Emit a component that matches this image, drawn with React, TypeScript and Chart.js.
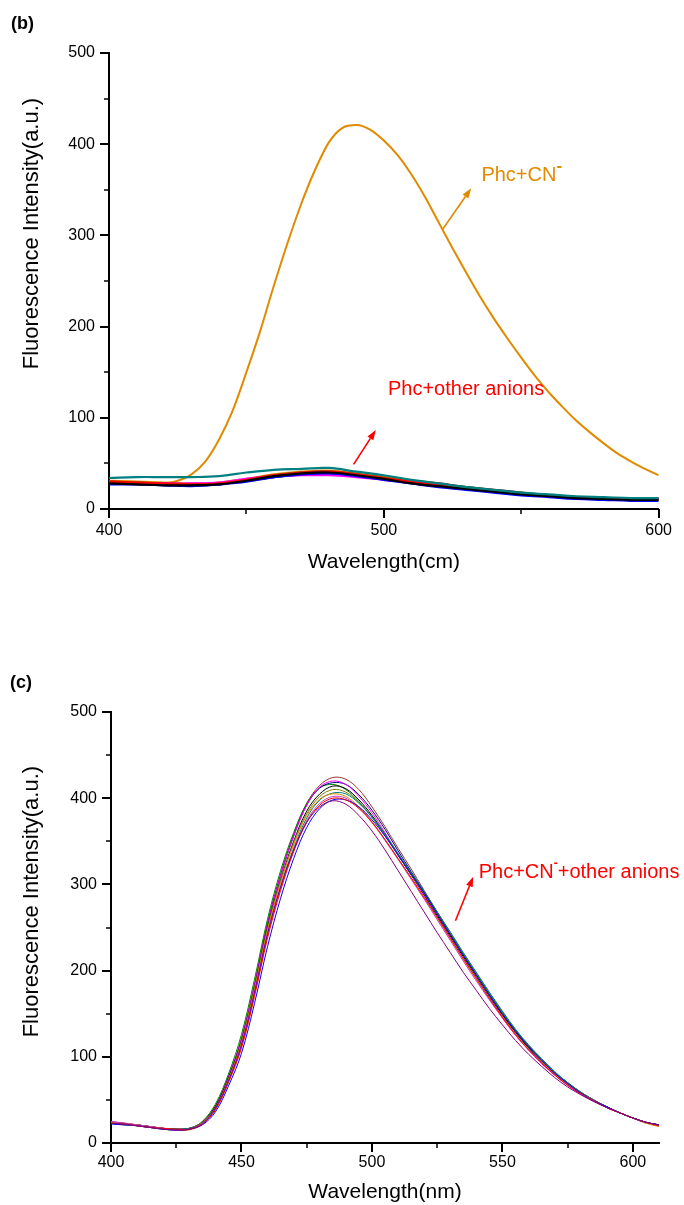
import React, { useEffect, useRef } from "react";
import { Chart, registerables } from "chart.js";

Chart.register(...registerables);

const FONT = "'Liberation Sans', Arial, Helvetica, sans-serif";

// ---------------- Panel (b) data ----------------
const bWavelengthsCoarse = [400, 410, 420, 430, 440, 450, 460, 470, 480, 490, 500, 510, 520, 530, 540, 550, 560, 570, 580, 590, 600];
const bWavelengthsFine = [
  400, 405, 410, 415, 420, 425, 430, 435, 440, 445, 450, 455, 460, 465, 470, 475, 480, 485, 490, 495, 500,
  505, 510, 515, 520, 525, 530, 535, 540, 545, 550, 555, 560, 565, 570, 575, 580, 585, 590, 595, 600,
];
const bCyanide = [
  28, 28, 27, 27, 28, 31, 38, 52, 76, 108, 150, 195, 245, 292, 335, 372, 402, 418, 421, 416, 404,
  388, 367, 342, 314, 286, 259, 233, 209, 187, 166, 146, 128, 112, 97, 84, 72, 61, 52, 44, 37,
];
const bOtherTeal = [34, 35, 35, 35, 36, 40, 43, 44, 45, 41, 37, 32, 28, 24, 21, 18, 16, 14, 13, 12, 12];
const bOtherBlack = [28, 27, 26, 26, 27, 31, 36, 39, 40, 37, 33, 28, 25, 22, 19, 16, 14, 12, 11, 10, 10];
const bOtherRed = [30, 29, 28, 27, 28, 32, 37, 40, 41, 38, 34, 30, 26, 23, 20, 17, 15, 13, 12, 11, 11];
const bOtherBlue = [27, 27, 26, 25, 27, 30, 35, 38, 39, 36, 32, 28, 24, 21, 18, 15, 13, 11, 10, 9, 9];
const bOtherMagenta = [29, 28, 28, 28, 29, 33, 36, 37, 37, 35, 32, 29, 26, 23, 19, 16, 14, 13, 12, 11, 11];
const bOtherOlive = [30, 29, 28, 27, 28, 32, 37, 40, 41, 38, 35, 31, 27, 23, 20, 17, 15, 13, 12, 11, 11];
const bOtherNavy = [28, 28, 27, 26, 28, 31, 36, 39, 40, 37, 33, 29, 25, 22, 19, 16, 14, 12, 11, 10, 10];
const bOtherGreen = [29, 28, 27, 26, 28, 31, 35, 38, 39, 37, 34, 31, 27, 24, 20, 17, 15, 13, 12, 11, 11];
const bOtherWine = [30, 29, 28, 27, 28, 32, 37, 40, 41, 38, 34, 31, 28, 24, 21, 18, 15, 13, 12, 11, 11];
const bOtherPurple = [29, 28, 27, 26, 27, 31, 35, 38, 39, 36, 33, 29, 26, 22, 19, 16, 14, 12, 11, 10, 10];
const bOtherOrange = [31, 30, 29, 28, 29, 33, 38, 41, 42, 39, 35, 31, 27, 23, 20, 17, 15, 13, 12, 12, 12];

const bOtherSeries = [
  { label: "other 1", color: "#008080", values: bOtherTeal },
  { label: "other 2", color: "#000000", values: bOtherBlack },
  { label: "other 3", color: "#FF0000", values: bOtherRed },
  { label: "other 4", color: "#0000FF", values: bOtherBlue },
  { label: "other 5", color: "#FF00FF", values: bOtherMagenta },
  { label: "other 6", color: "#808000", values: bOtherOlive },
  { label: "other 7", color: "#000080", values: bOtherNavy },
  { label: "other 8", color: "#008000", values: bOtherGreen },
  { label: "other 9", color: "#800000", values: bOtherWine },
  { label: "other 10", color: "#800080", values: bOtherPurple },
  { label: "other 11", color: "#E08A00", values: bOtherOrange },
];

// ---------------- Panel (c) data ----------------
const cWavelengths = [
  400, 405, 410, 415, 420, 425, 430, 435, 440, 445, 450, 455, 460, 465, 470, 475, 480, 485, 490, 495, 500,
  505, 510, 515, 520, 525, 530, 535, 540, 545, 550, 555, 560, 565, 570, 575, 580, 585, 590, 595, 600, 605, 610,
];
const cBlack = [24, 22, 21, 19, 17, 16, 17, 24, 42, 75, 118, 180, 250, 305, 350, 385, 405, 414, 411, 398, 380, 358, 334, 311, 288, 264, 240, 216, 193, 170, 148, 128, 110, 94, 80, 68, 58, 49, 42, 35, 29, 24, 21];
const cRed = [23, 22, 20, 18, 17, 16, 16, 22, 38, 70, 110, 170, 238, 293, 338, 372, 392, 400, 398, 388, 372, 352, 330, 308, 285, 262, 238, 214, 191, 168, 146, 126, 108, 93, 79, 67, 57, 49, 41, 35, 29, 24, 20];
const cBlue = [22, 21, 20, 18, 16, 15, 16, 21, 36, 66, 104, 162, 228, 284, 330, 366, 388, 398, 398, 390, 375, 356, 334, 312, 290, 266, 242, 218, 195, 172, 150, 130, 112, 96, 81, 69, 58, 49, 42, 35, 29, 24, 21];
const cMagenta = [25, 23, 21, 19, 17, 16, 17, 24, 42, 76, 120, 183, 253, 310, 356, 392, 413, 420, 416, 402, 383, 360, 335, 311, 287, 262, 237, 213, 190, 167, 145, 125, 108, 92, 79, 67, 57, 49, 42, 35, 29, 24, 20];
const cOlive = [23, 22, 20, 18, 17, 16, 17, 24, 41, 74, 117, 179, 249, 304, 348, 382, 402, 410, 407, 395, 378, 357, 334, 311, 289, 266, 243, 219, 196, 173, 151, 130, 112, 96, 82, 69, 58, 49, 41, 35, 29, 23, 20];
const cNavy = [24, 22, 21, 19, 17, 16, 17, 24, 42, 76, 120, 183, 254, 310, 356, 392, 412, 418, 416, 404, 386, 364, 339, 315, 291, 266, 242, 218, 195, 172, 149, 129, 111, 95, 81, 69, 58, 49, 41, 35, 29, 24, 21];
const cPurple = [23, 22, 20, 18, 16, 15, 16, 22, 40, 72, 114, 175, 243, 297, 340, 372, 390, 397, 393, 380, 362, 340, 316, 292, 268, 244, 221, 198, 177, 156, 137, 119, 103, 89, 76, 65, 56, 48, 41, 35, 29, 24, 21];
const cWine = [24, 23, 21, 19, 17, 16, 17, 24, 43, 77, 121, 184, 255, 312, 358, 394, 415, 424, 422, 410, 390, 367, 342, 318, 293, 268, 243, 219, 196, 173, 151, 131, 113, 97, 82, 70, 59, 50, 42, 35, 29, 24, 21];
const cTeal = [23, 22, 20, 18, 17, 16, 17, 23, 40, 72, 113, 174, 243, 298, 342, 377, 398, 406, 405, 394, 378, 358, 336, 314, 292, 268, 245, 221, 198, 175, 153, 132, 114, 98, 83, 70, 59, 50, 42, 35, 29, 24, 20];
const cOrange = [24, 23, 21, 19, 17, 15, 15, 22, 40, 73, 116, 178, 247, 302, 346, 380, 399, 405, 402, 390, 373, 352, 330, 307, 284, 260, 237, 213, 190, 168, 147, 127, 109, 94, 80, 68, 58, 49, 41, 35, 29, 23, 19];
const cGreen = [23, 21, 20, 18, 16, 15, 16, 25, 45, 80, 126, 190, 260, 316, 360, 394, 412, 416, 410, 396, 378, 357, 335, 313, 291, 268, 244, 220, 197, 174, 152, 131, 113, 97, 82, 70, 59, 50, 42, 35, 29, 24, 20];
const cViolet = [25, 23, 21, 19, 17, 15, 16, 23, 40, 72, 113, 173, 241, 296, 340, 374, 394, 402, 400, 389, 372, 351, 329, 306, 283, 259, 235, 211, 188, 166, 145, 125, 108, 93, 79, 67, 57, 49, 41, 35, 29, 24, 21];

const cSeries = [
  { label: "c1", color: "#800080", values: cPurple },
  { label: "c2", color: "#FF0000", values: cRed },
  { label: "c3", color: "#0000FF", values: cBlue },
  { label: "c4", color: "#C040C0", values: cViolet },
  { label: "c5", color: "#E08A00", values: cOrange },
  { label: "c6", color: "#008080", values: cTeal },
  { label: "c7", color: "#808000", values: cOlive },
  { label: "c8", color: "#000000", values: cBlack },
  { label: "c9", color: "#FF00FF", values: cMagenta },
  { label: "c10", color: "#000080", values: cNavy },
  { label: "c11", color: "#008000", values: cGreen },
  { label: "c12", color: "#993333", values: cWine },
];

const Y_TITLE = "Fluorescence Intensity(a.u.)";

const pts = (xs: number[], ys: number[]) => xs.map((x, i) => ({ x, y: ys[i] }));

// ---------------- plugins ----------------
const axisTicksPlugin = {
  id: "axisTicks",
  afterDraw(chart: any, _args: any, opts: any) {
    const { ctx, chartArea } = chart;
    const xs = chart.scales.x;
    const ys = chart.scales.y;
    ctx.save();
    ctx.strokeStyle = "#000";
    const eps = 1e-6;
    for (let v = xs.min; v <= xs.max + eps; v += opts.xMinor) {
      const major = Math.abs((v - xs.min) % opts.xMajor) < eps;
      const px = Math.round(xs.getPixelForValue(v));
      ctx.lineWidth = major ? 2 : 1.5;
      ctx.beginPath();
      ctx.moveTo(px, chartArea.bottom);
      ctx.lineTo(px, chartArea.bottom + (major ? 9 : 5));
      ctx.stroke();
    }
    for (let v = ys.min; v <= ys.max + eps; v += opts.yMinor) {
      const major = Math.abs(v % opts.yMajor) < eps;
      const py = Math.round(ys.getPixelForValue(v));
      ctx.lineWidth = major ? 2 : 1.5;
      ctx.beginPath();
      ctx.moveTo(chartArea.left, py);
      ctx.lineTo(chartArea.left - (major ? 9 : 5), py);
      ctx.stroke();
    }
    ctx.restore();
  },
};

const notesPlugin = {
  id: "notes",
  afterDraw(chart: any, _args: any, opts: any) {
    const { ctx } = chart;
    const xs = chart.scales.x;
    const ys = chart.scales.y;
    ctx.save();
    for (const n of opts.items || []) {
      if (n.kind === "arrow") {
        const x0 = xs.getPixelForValue(n.x0);
        const y0 = ys.getPixelForValue(n.y0);
        const x1 = xs.getPixelForValue(n.x1);
        const y1 = ys.getPixelForValue(n.y1);
        const ang = Math.atan2(y1 - y0, x1 - x0);
        const head = 10;
        const half = 3.5;
        const bx = x1 - head * Math.cos(ang);
        const by = y1 - head * Math.sin(ang);
        ctx.strokeStyle = n.color;
        ctx.fillStyle = n.color;
        ctx.lineWidth = 1.6;
        ctx.beginPath();
        ctx.moveTo(x0, y0);
        ctx.lineTo(bx, by);
        ctx.stroke();
        ctx.beginPath();
        ctx.moveTo(x1, y1);
        ctx.lineTo(bx + half * Math.sin(ang), by - half * Math.cos(ang));
        ctx.lineTo(bx - half * Math.sin(ang), by + half * Math.cos(ang));
        ctx.closePath();
        ctx.fill();
      } else if (n.kind === "text") {
        let cx = xs.getPixelForValue(n.x);
        const base = ys.getPixelForValue(n.y);
        ctx.fillStyle = n.color;
        ctx.textBaseline = "alphabetic";
        ctx.textAlign = "left";
        for (const p of n.parts) {
          if (p.sup) {
            ctx.font = `bold ${n.supSize}px ${FONT}`;
            ctx.fillText(p.text, cx, base - n.supRaise);
          } else {
            ctx.font = `${n.size}px ${FONT}`;
            ctx.fillText(p.text, cx, base);
          }
          cx += ctx.measureText(p.text).width;
        }
      }
    }
    if (opts.yTitle) {
      const t = opts.yTitle;
      ctx.save();
      ctx.translate(t.x, ys.getPixelForValue(t.center));
      ctx.rotate(-Math.PI / 2);
      ctx.fillStyle = "#000";
      ctx.font = `${t.size}px ${FONT}`;
      ctx.textAlign = "center";
      ctx.textBaseline = "middle";
      ctx.fillText(t.text, 0, 0);
      ctx.restore();
    }
    if (opts.panel) {
      ctx.fillStyle = "#000";
      ctx.font = `bold 18px ${FONT}`;
      ctx.textBaseline = "alphabetic";
      ctx.textAlign = "left";
      ctx.fillText(opts.panel.text, opts.panel.x, opts.panel.y);
    }
    ctx.restore();
  },
};

function buildConfig(p: {
  datasets: any[];
  xMin: number;
  xMax: number;
  xStep: number;
  xMinor: number;
  xTitle: string;
  yWidth: number;
  xHeight: number;
  padding: any;
  xLabelPad: number;
  xTitlePadBottom: number;
  notes: any[];
  panel: any;
  yTitleCenter: number;
}) {
  return {
    type: "line",
    data: { datasets: p.datasets },
    plugins: [axisTicksPlugin, notesPlugin],
    options: {
      responsive: false,
      animation: false,
      devicePixelRatio: 1,
      layout: { padding: p.padding },
      elements: { point: { radius: 0 } },
      plugins: {
        legend: { display: false },
        tooltip: { enabled: false },
        axisTicks: { xMajor: p.xStep, xMinor: p.xMinor, yMajor: 100, yMinor: 50 },
        notes: {
          items: p.notes,
          panel: p.panel,
          yTitle: { text: Y_TITLE, x: 32, center: p.yTitleCenter, size: 22 },
        },
      },
      scales: {
        x: {
          type: "linear",
          min: p.xMin,
          max: p.xMax,
          afterFit: (s: any) => {
            s.height = p.xHeight;
          },
          grid: { display: false, drawTicks: false, drawOnChartArea: false },
          border: { display: true, color: "#000", width: 2 },
          ticks: {
            stepSize: p.xStep,
            includeBounds: false,
            autoSkip: false,
            maxRotation: 0,
            padding: p.xLabelPad,
            color: "#000",
            font: { family: FONT, size: 16 },
          },
          title: {
            display: true,
            text: p.xTitle,
            color: "#000",
            font: { family: FONT, size: 21 },
            padding: { top: 0, bottom: p.xTitlePadBottom },
          },
        },
        y: {
          type: "linear",
          min: 0,
          max: 500,
          afterFit: (s: any) => {
            s.width = p.yWidth;
          },
          grid: { display: false, drawTicks: false, drawOnChartArea: false },
          border: { display: true, color: "#000", width: 2 },
          ticks: {
            stepSize: 100,
            autoSkip: false,
            padding: 14,
            color: "#000",
            font: { family: FONT, size: 16 },
          },
          title: { display: false },
        },
      },
    },
  } as any;
}

export default function App() {
  const refB = useRef<HTMLCanvasElement>(null);
  const refC = useRef<HTMLCanvasElement>(null);

  useEffect(() => {
    const bDatasets = [
      ...bOtherSeries.map((s) => ({
        label: s.label,
        data: pts(bWavelengthsCoarse, s.values),
        borderColor: s.color,
        borderWidth: 2.2,
        tension: 0.4,
        fill: false,
      })),
      {
        label: "Phc+CN-",
        data: pts(bWavelengthsFine, bCyanide),
        borderColor: "#E08A00",
        borderWidth: 2,
        cubicInterpolationMode: "monotone",
        fill: false,
      },
    ];
    const cDatasets = cSeries.map((s) => ({
      label: s.label,
      data: pts(cWavelengths, s.values),
      borderColor: s.color,
      borderWidth: 1,
      tension: 0.35,
      fill: false,
    }));

    const chartB = new Chart(
      refB.current as HTMLCanvasElement,
      buildConfig({
        datasets: bDatasets,
        xMin: 400,
        xMax: 600,
        xStep: 100,
        xMinor: 50,
        xTitle: "Wavelength(cm)",
        yWidth: 109,
        xHeight: 91,
        padding: { left: 0, right: 17, top: 53, bottom: 0 },
        xLabelPad: 12,
        xTitlePadBottom: 25,
        yTitleCenter: 302,
        notes: [
          { kind: "arrow", x0: 521.4, y0: 306.7, x1: 531.8, y1: 351.6, color: "#E08A00" },
          {
            kind: "text",
            x: 535.5,
            y: 359.6,
            color: "#E08A00",
            size: 20,
            supSize: 17,
            supRaise: 10,
            parts: [{ text: "Phc+CN" }, { text: "-", sup: true }],
          },
          { kind: "arrow", x0: 489, y0: 49, x1: 497.1, y1: 86.6, color: "#FF0000" },
          {
            kind: "text",
            x: 501.5,
            y: 125,
            color: "#FF0000",
            size: 20,
            supSize: 13,
            supRaise: 12,
            parts: [{ text: "Phc+other anions" }],
          },
        ],
        panel: { text: "(b)", x: 11, y: 29 },
      })
    );

    const chartC = new Chart(
      refC.current as HTMLCanvasElement,
      buildConfig({
        datasets: cDatasets,
        xMin: 400,
        xMax: 610,
        xStep: 50,
        xMinor: 25,
        xTitle: "Wavelength(nm)",
        yWidth: 111,
        xHeight: 62,
        padding: { left: 0, right: 25, top: 112, bottom: 0 },
        xLabelPad: 10,
        xTitlePadBottom: 0,
        yTitleCenter: 280,
        notes: [
          { kind: "arrow", x0: 532, y0: 257.9, x1: 538.8, y1: 308.9, color: "#FF0000" },
          {
            kind: "text",
            x: 540.9,
            y: 307,
            color: "#FF0000",
            size: 20,
            supSize: 12,
            supRaise: 11,
            parts: [{ text: "Phc+CN" }, { text: "-", sup: true }, { text: "+other anions" }],
          },
        ],
        panel: { text: "(c)", x: 10, y: 88 },
      })
    );

    return () => {
      chartB.destroy();
      chartC.destroy();
    };
  }, []);

  return (
    <div
      style={{
        position: "absolute",
        left: 0,
        top: 0,
        width: 684,
        height: 1205,
        background: "#fff",
        overflow: "hidden",
      }}
    >
      <canvas ref={refB} width={684} height={600} style={{ position: "absolute", left: 0, top: 0, display: "block" }} />
      <canvas ref={refC} width={684} height={605} style={{ position: "absolute", left: 0, top: 600, display: "block" }} />
    </div>
  );
}
